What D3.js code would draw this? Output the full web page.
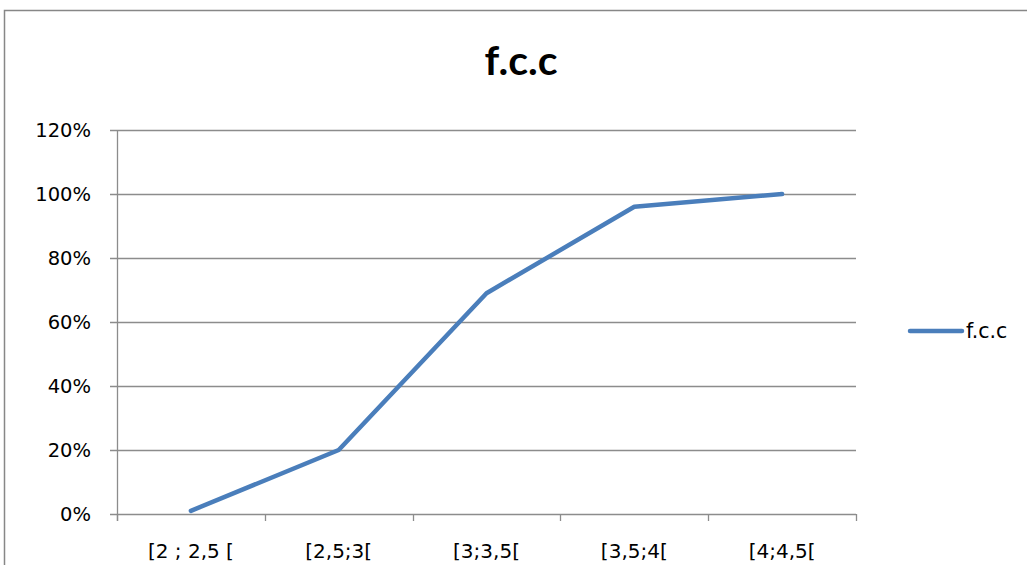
<!DOCTYPE html>
<html><head><meta charset="utf-8">
<script src="https://cdn.jsdelivr.net/npm/d3@7"></script>
<style>body{margin:0;background:#fff}svg{display:block}text{font-family:"DejaVu Sans",sans-serif}</style>
</head><body><svg id="c" width="1027" height="565"></svg>
<script>
const categories = ["[2 ; 2,5 [", "[2,5;3[", "[3;3,5[", "[3,5;4[", "[4;4,5["];
const values = [0.01, 0.20, 0.69, 0.96, 1.00];
const yTicks = [0, 0.2, 0.4, 0.6, 0.8, 1.0, 1.2];
const seriesName = "f.c.c";
const chartTitle = "f.c.c";

(function () {
const svg = d3.select("#c");
svg.append("rect").attr("x", 4.5).attr("y", 10.5).attr("width", 1030).attr("height", 600)
  .attr("fill", "#fff").attr("stroke", "#878787").attr("stroke-width", 1.5);

const pL = 117, pR = 856, pT = 130, pB = 514;
const x = d3.scaleBand().domain(categories).range([pL, pR]);
const y = d3.scaleLinear().domain([0, 1.2]).range([pB, pT]);

const g = svg.append("g");
g.selectAll("line.grid").data(yTicks).join("line")
  .attr("x1", pL - 7).attr("x2", pR)
  .attr("y1", d => Math.round(y(d)) + 0.5).attr("y2", d => Math.round(y(d)) + 0.5)
  .attr("stroke", "#8c8c8c").attr("stroke-width", 1.3);
g.append("line").attr("x1", pL + 0.5).attr("x2", pL + 0.5).attr("y1", pT).attr("y2", pB + 7)
  .attr("stroke", "#8c8c8c").attr("stroke-width", 1.3);
const xTickPos = categories.map(c => x(c)).concat([pR]);
g.selectAll("line.xt").data(xTickPos).join("line")
  .attr("x1", d => Math.round(d) + 0.5).attr("x2", d => Math.round(d) + 0.5)
  .attr("y1", pB).attr("y2", pB + 7)
  .attr("stroke", "#8c8c8c").attr("stroke-width", 1.3);

g.selectAll("text.yl").data(yTicks).join("text")
  .attr("x", 91).attr("y", d => y(d) + 6.5)
  .attr("text-anchor", "end").attr("font-size", 19.5).attr("fill", "#000")
  .text(d => d3.format(".0%")(d));

g.selectAll("text.xl").data(categories).join("text")
  .attr("x", d => x(d) + x.bandwidth() / 2).attr("y", 558)
  .attr("text-anchor", "middle").attr("font-size", 20).attr("fill", "#000")
  .text(d => d);

const line = d3.line().x((d, i) => x(categories[i]) + x.bandwidth() / 2).y(d => y(d));
g.append("path").datum(values).attr("d", line).attr("fill", "none")
  .attr("stroke", "#4a7ebb").attr("stroke-width", 4.5).attr("stroke-linecap", "round").attr("stroke-linejoin", "round");

svg.append("text").attr("x", 521).attr("y", 75).attr("text-anchor", "middle")
  .style("font-family", "Lato, sans-serif")
  .attr("font-size", 41).attr("font-weight", "bold").attr("fill", "#000").text(chartTitle);

svg.append("line").attr("x1", 910).attr("x2", 962).attr("y1", 331).attr("y2", 331)
  .attr("stroke", "#4a7ebb").attr("stroke-width", 4.5).attr("stroke-linecap", "round");
svg.append("text").attr("x", 966).attr("y", 338).attr("font-size", 20.5)
  .attr("fill", "#000").text(seriesName);
})();
</script></body></html>
